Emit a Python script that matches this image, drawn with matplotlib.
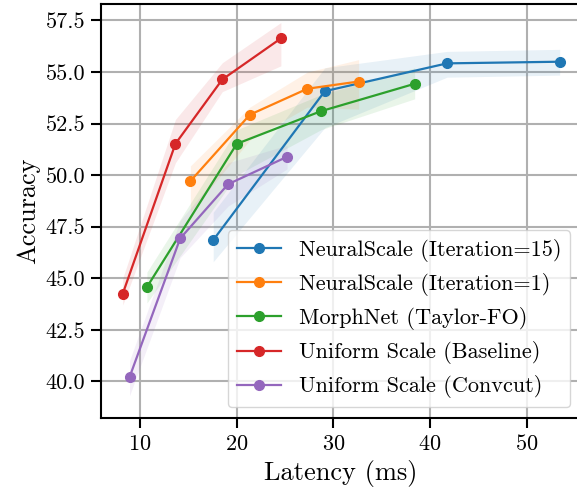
import numpy as np
import matplotlib
matplotlib.use("Agg")
import matplotlib.pyplot as plt

plt.rcParams['font.family'] = 'serif'
plt.rcParams['font.serif'] = ['cmr10']
plt.rcParams['mathtext.fontset'] = 'cm'
plt.rcParams['axes.formatter.use_mathtext'] = True

# latency (ms), mean accuracy and shaded band (lower / upper)
ns15_lat = [17.56, 29.1, 41.75, 53.4]
ns15_acc = [46.85, 54.07, 55.42, 55.50]
ns15_lo = [45.8, 52.3, 54.75, 54.85]
ns15_hi = [48.2, 55.2, 56.0, 56.1]

ns1_lat = [15.2, 21.35, 27.3, 32.6]
ns1_acc = [49.71, 52.93, 54.19, 54.54]
ns1_lo = [48.2, 51.7, 53.3, 53.2]
ns1_hi = [50.45, 53.3, 55.0, 55.6]

mn_lat = [10.7, 20.0, 28.7, 38.4]
mn_acc = [44.57, 51.52, 53.10, 54.43]
mn_lo = [43.8, 50.0, 52.2, 53.7]
mn_hi = [45.3, 52.2, 53.9, 55.2]

us_lat = [8.2, 13.65, 18.5, 24.56]
us_acc = [44.25, 51.52, 54.64, 56.63]
us_lo = [43.7, 50.6, 54.05, 55.3]
us_hi = [45.0, 52.7, 55.45, 57.4]

uc_lat = [8.9, 14.14, 19.1, 25.2]
uc_acc = [40.2, 46.93, 49.56, 50.89]
uc_lo = [39.3, 46.0, 48.5, 50.3]
uc_hi = [41.0, 47.8, 50.6, 51.45]

labels = ['NeuralScale (Iteration=15)', 'NeuralScale (Iteration=1)',
          'MorphNet (Taylor-FO)', 'Uniform Scale (Baseline)',
          'Uniform Scale (Convcut)']
colors = ['#1f77b4', '#ff7f0e', '#2ca02c', '#d62728', '#9467bd']

series = [(ns15_lat, ns15_acc, ns15_lo, ns15_hi),
          (ns1_lat, ns1_acc, ns1_lo, ns1_hi),
          (mn_lat, mn_acc, mn_lo, mn_hi),
          (us_lat, us_acc, us_lo, us_hi),
          (uc_lat, uc_acc, uc_lo, uc_hi)]

fig = plt.figure(figsize=(5.77, 4.97), dpi=100)
# right spine falls just outside the picture, as in the cropped original
ax = fig.add_axes([101 / 577, 0.158, 480.5 / 577, 0.834])

for (lat, acc, lo, hi), lab, c in zip(series, labels, colors):
    ax.plot(lat, acc, '-o', color=c, lw=1.6, ms=7, label=lab, zorder=3)
    ax.fill_between(lat, lo, hi, color=c, alpha=0.1, lw=0)

ax.set_xlim(5.95, 55.66)
ax.set_ylim(38.2, 58.3)
ax.set_xticks([10, 20, 30, 40, 50])
ax.set_yticks(np.arange(40, 57.6, 2.5))
ax.yaxis.set_major_formatter(matplotlib.ticker.FormatStrFormatter('%.1f'))
ax.grid(color='#b0b0b0', lw=1.5)
ax.set_axisbelow(True)
ax.tick_params(labelsize=16, width=1.5, length=7, pad=4.5)
for s in ax.spines.values():
    s.set_linewidth(1.5)
ax.spines['right'].set_visible(False)
ax.set_xlabel('Latency (ms)', fontsize=19)
ax.set_ylabel('Accuracy', fontsize=19)
ax.legend(loc='lower right', fontsize=16, framealpha=0.8)

fig.savefig('out.png', dpi=100)
